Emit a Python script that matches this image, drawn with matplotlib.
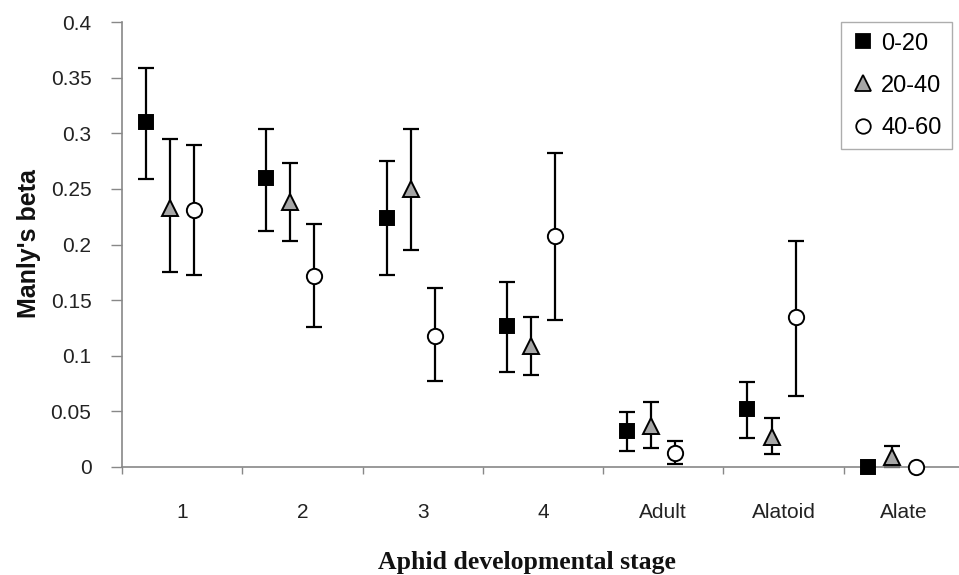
import matplotlib
matplotlib.use("Agg")
import matplotlib.pyplot as plt
import numpy as np

plt.rcParams['font.family'] = ['Liberation Sans', 'DejaVu Sans']

categories = ["1", "2", "3", "4", "Adult", "Alatoid", "Alate"]
series_names = ["0-20", "20-40", "40-60"]

val_0_20 = [0.310, 0.260, 0.224, 0.127, 0.032, 0.052, 0.000]
lo_0_20 = [0.259, 0.212, 0.173, 0.085, 0.014, 0.026, 0.000]
hi_0_20 = [0.359, 0.304, 0.275, 0.166, 0.049, 0.076, 0.000]

val_20_40 = [0.233, 0.238, 0.250, 0.109, 0.037, 0.027, 0.009]
lo_20_40 = [0.175, 0.203, 0.195, 0.083, 0.017, 0.012, 0.000]
hi_20_40 = [0.295, 0.273, 0.304, 0.135, 0.058, 0.044, 0.019]

val_40_60 = [0.231, 0.172, 0.118, 0.208, 0.013, 0.135, 0.000]
lo_40_60 = [0.173, 0.126, 0.077, 0.132, 0.003, 0.064, 0.000]
hi_40_60 = [0.289, 0.218, 0.161, 0.282, 0.023, 0.203, 0.000]

W, H = 959, 575
fig = plt.figure(figsize=(W / 100, H / 100), dpi=100)
ax = fig.add_axes([122 / W, (H - 467) / H, (964 - 122) / W, (467 - 22) / H])

x = np.arange(1, len(categories) + 1)
specs = [
    (val_0_20, lo_0_20, hi_0_20, -0.3, 's', 'black', 10.5),
    (val_20_40, lo_20_40, hi_20_40, -0.1, '^', '#a6a6a6', 12),
    (val_40_60, lo_40_60, hi_40_60, 0.1, 'o', 'white', 11),
]
handles = []
for (v, lo, hi, off, mk, fc, ms), name in zip(specs, series_names):
    v = np.array(v); lo = np.array(lo); hi = np.array(hi)
    yerr = np.vstack([v - lo, hi - v])
    eb = ax.errorbar(x + off, v, yerr=yerr, fmt='none', ecolor='black',
                     elinewidth=1.6, capsize=6, capthick=1.6, zorder=2, clip_on=False)
    for c in eb[1] + eb[2]:
        c.set_clip_on(False)
    ax.plot(x + off, v, linestyle='none', marker=mk, markersize=ms,
            markerfacecolor=fc, markeredgecolor='black', markeredgewidth=1.4,
            zorder=3, clip_on=False)
    h, = ax.plot([], [], linestyle='none', marker=mk, markersize=ms * 0.95,
                 markerfacecolor=fc, markeredgecolor='black', markeredgewidth=1.3)
    handles.append(h)

ax.set_xlim(0.5, len(categories) + 0.5)
ax.set_ylim(0, 0.4)
ax.set_yticks(np.arange(0, 0.401, 0.05))
ax.set_yticklabels(["0", "0.05", "0.1", "0.15", "0.2", "0.25", "0.3", "0.35", "0.4"])
ax.set_xticks(np.arange(0.5, len(categories) + 0.6, 1.0))
ax.set_xticklabels([])
ax.set_xticks(x, minor=True)
ax.set_xticklabels(categories, minor=True)
ax.tick_params(axis='x', which='major', direction='out', length=5, width=1, color='#888888')
ax.tick_params(axis='x', which='minor', length=0, pad=26, labelsize=15, labelcolor='#222222')
ax.tick_params(axis='y', direction='out', length=8, width=1, color='#888888',
               pad=14, labelsize=15, labelcolor='#222222')
for s in ['top', 'right']:
    ax.spines[s].set_visible(False)
for s in ['left', 'bottom']:
    ax.spines[s].set_color('#888888')
    ax.spines[s].set_linewidth(1.2)

fig.text(29 / W, 1 - 244 / H, "Manly's beta", rotation=90, ha='center', va='center',
         fontsize=18, fontweight='bold', color='#111111')
fig.text(527 / W, 1 - 563 / H, "Aphid developmental stage", ha='center', va='center',
         fontsize=18.5, fontweight='bold', family='Liberation Serif', color='#111111')

leg = ax.legend(handles, series_names, loc='upper right',
                bbox_to_anchor=(952 / W, 1 - 22 / H), bbox_transform=fig.transFigure,
                borderaxespad=0, fontsize=17, frameon=True, fancybox=False,
                handlelength=1.0, handletextpad=0.25, labelspacing=0.85,
                borderpad=0.45)
leg.get_frame().set_edgecolor('#999999')
leg.get_frame().set_linewidth(1.0)

fig.savefig("out.png", dpi=100)
